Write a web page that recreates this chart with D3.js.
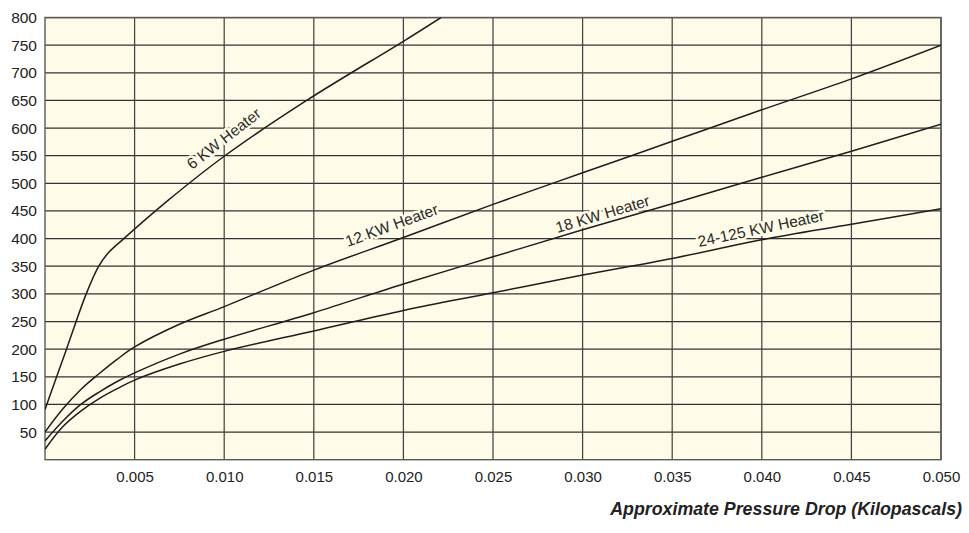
<!DOCTYPE html>
<html>
<head>
<meta charset="utf-8">
<script src="https://cdn.jsdelivr.net/npm/d3@7"></script>
<style>
  html, body { margin: 0; padding: 0; background: #ffffff; }
  svg { display: block; font-family: "Liberation Sans", Arial, Helvetica, sans-serif; }
</style>
</head>
<body>
<svg id="chart" width="969" height="533"></svg>
<script>
// ---- data ----
const xTickValues = [0.005, 0.010, 0.015, 0.020, 0.025, 0.030, 0.035, 0.040, 0.045, 0.050];
const yTickValues = [50, 100, 150, 200, 250, 300, 350, 400, 450, 500, 550, 600, 650, 700, 750, 800];

const heater6X  = [0, 0.0012, 0.0023, 0.0030, 0.0035, 0.0044, 0.0069, 0.010, 0.0146, 0.020, 0.0221];
const heater6Y  = [91, 200, 300, 350, 373, 400, 470, 549, 650, 757, 800];

const heater12X = [0, 0.001, 0.002, 0.003, 0.004, 0.005, 0.0075, 0.010, 0.015, 0.020, 0.025, 0.030, 0.035, 0.040, 0.045, 0.050];
const heater12Y = [50, 92, 127, 155, 181, 204, 245, 277, 343, 402, 462, 519, 576, 633, 689, 750];

const heater18X = [0, 0.001, 0.002, 0.003, 0.004, 0.005, 0.0075, 0.010, 0.015, 0.020, 0.025, 0.030, 0.035, 0.040, 0.045, 0.050];
const heater18Y = [34, 70, 100, 122, 141, 157, 191, 218, 266, 318, 367, 416, 463, 511, 558, 607];

const heater24X = [0, 0.001, 0.002, 0.003, 0.004, 0.005, 0.0075, 0.010, 0.015, 0.020, 0.025, 0.030, 0.035, 0.040, 0.045, 0.050];
const heater24Y = [19, 60, 88, 110, 128, 144, 173, 196, 233, 270, 302, 334, 364, 398, 426, 454];

const seriesNames = ["6 KW Heater", "12 KW Heater", "18 KW Heater", "24-125 KW Heater"];
const labelX = [0.0082, 0.0169, 0.0286, 0.0365];   // where each label starts (data units)
const labelY = [524, 385, 410, 385];

const xTitle = "Approximate Pressure Drop (Kilopascals)";

// ---- build ----
const seriesX = [heater6X, heater12X, heater18X, heater24X];
const seriesY = [heater6Y, heater12Y, heater18Y, heater24Y];
const series = seriesNames.map((name, i) => ({
  name,
  points: seriesX[i].map((xv, j) => ({ x: xv, y: seriesY[i][j] })),
  lx: labelX[i], ly: labelY[i]
}));

const svg = d3.select("#chart");
const pL = 45, pR = 941, pT = 17.5, pB = 459.7;
const x = d3.scaleLinear().domain([0, 0.05]).range([pL, pR]);
const y = d3.scaleLinear().domain([0, 800]).range([pB, pT]);

const cream = "#fefbe8";
svg.append("rect")
  .attr("x", pL).attr("y", pT)
  .attr("width", pR - pL).attr("height", pB - pT)
  .attr("fill", cream);

svg.append("clipPath").attr("id", "plotclip")
  .append("rect").attr("x", pL).attr("y", pT)
  .attr("width", pR - pL).attr("height", pB - pT);

// grid
const grid = svg.append("g");
grid.selectAll("line.h").data(yTickValues).join("line")
  .attr("class", "h")
  .attr("x1", pL).attr("x2", pR)
  .attr("y1", d => y(d)).attr("y2", d => y(d))
  .attr("stroke", "#333").attr("stroke-width", 1.25);
grid.selectAll("line.v").data(xTickValues).join("line")
  .attr("class", "v")
  .attr("y1", pT).attr("y2", pB)
  .attr("x1", d => x(d)).attr("x2", d => x(d))
  .attr("stroke", "#444").attr("stroke-width", 1.25);

// border
svg.append("rect")
  .attr("x", pL).attr("y", pT)
  .attr("width", pR - pL).attr("height", pB - pT)
  .attr("fill", "none").attr("stroke", "#5a5a5a").attr("stroke-width", 1.4);

// axes via d3 axis generators (ticks only as text)
const yAxis = d3.axisLeft(y).tickValues(yTickValues).tickSize(0).tickPadding(8).tickFormat(d3.format("d"));
const gy = svg.append("g").attr("transform", `translate(${pL},0)`).call(yAxis);
gy.select(".domain").remove();
gy.selectAll("text").attr("font-size", 15.5).attr("fill", "#222")
  .attr("font-family", "'Liberation Sans', Arial, sans-serif");

const xAxis = d3.axisBottom(x).tickValues(xTickValues).tickSize(0).tickPadding(12).tickFormat(d3.format(".3f"));
const gx = svg.append("g").attr("transform", `translate(0,${pB})`).call(xAxis);
gx.select(".domain").remove();
gx.selectAll("text").attr("font-size", 15).attr("fill", "#222")
  .attr("font-family", "'Liberation Sans', Arial, sans-serif");

// x title
svg.append("text")
  .attr("x", 962).attr("y", 515)
  .attr("text-anchor", "end")
  .attr("font-size", 17.8).attr("font-weight", "bold").attr("font-style", "italic")
  .attr("fill", "#222")
  .text(xTitle);

// local value along a series (linear, for label angle only)
function valueAt(pts, xv) {
  const i = Math.max(1, Math.min(pts.length - 1, d3.bisector(d => d.x).left(pts, xv)));
  const a = pts[i - 1], b = pts[i];
  const t = (xv - a.x) / (b.x - a.x);
  return a.y + t * (b.y - a.y);
}

// labels
const labels = svg.append("g").attr("clip-path", "url(#plotclip)");
series.forEach(s => {
  const x0 = x(s.lx), x1 = x(s.lx + 0.002);
  const y0 = y(valueAt(s.points, s.lx)), y1 = y(valueAt(s.points, s.lx + 0.002));
  const ang = Math.atan2(y1 - y0, x1 - x0) * 180 / Math.PI;
  labels.append("text")
    .attr("transform", `translate(${x(s.lx)},${y(s.ly)}) rotate(${ang})`)
    .attr("font-size", 15.5).attr("fill", "#2a2a2a")
    .attr("stroke", cream).attr("stroke-width", 5).attr("paint-order", "stroke")
    .attr("stroke-linejoin", "round")
    .text(s.name);
});

// curves
const line = d3.line().x(d => x(d.x)).y(d => y(d.y)).curve(d3.curveCatmullRom.alpha(0.5));
svg.append("g").attr("clip-path", "url(#plotclip)")
  .selectAll("path").data(series).join("path")
  .attr("d", d => line(d.points))
  .attr("fill", "none").attr("stroke", "#1e1e1e").attr("stroke-width", 1.5);
</script>
</body>
</html>
